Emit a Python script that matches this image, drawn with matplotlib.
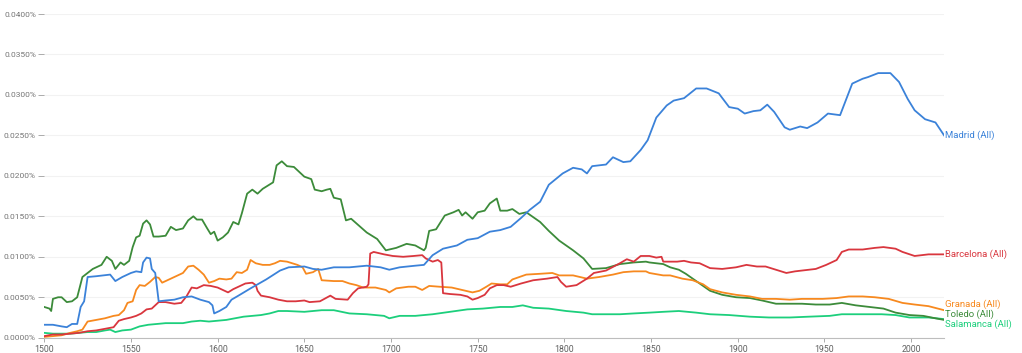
import matplotlib
matplotlib.use('Agg')
import matplotlib.pyplot as plt

plt.rcParams['font.family'] = ['Roboto', 'DejaVu Sans']

# values in percent
madrid_yr = [1500, 1505, 1510, 1513, 1516, 1519, 1521, 1523, 1525, 1530, 1538, 1541, 1545, 1550, 1553, 1556, 1557,
             1559, 1561, 1562, 1564, 1566, 1570, 1575, 1580, 1585, 1590, 1595, 1597, 1598, 1601, 1605, 1608, 1612,
             1619, 1628, 1636, 1641, 1650, 1655, 1660, 1667, 1676, 1686, 1694, 1699, 1705, 1714, 1719, 1724, 1730,
             1738, 1744, 1750, 1757, 1763, 1769, 1775, 1780, 1786, 1791, 1799, 1805, 1810, 1813, 1816, 1824, 1828,
             1834, 1838, 1844, 1848, 1853, 1859, 1863, 1869, 1876, 1882, 1889, 1895, 1900, 1904, 1909, 1913, 1917,
             1921, 1927, 1930, 1936, 1940, 1946, 1952, 1959, 1966, 1972, 1975, 1981, 1988, 1993, 1998, 2002, 2008,
             2014, 2019]
madrid = [0.0016, 0.0016, 0.0014, 0.0013, 0.0017, 0.0017, 0.0038, 0.0045, 0.0075, 0.0076, 0.0078, 0.0070, 0.0075,
          0.0080, 0.0082, 0.0081, 0.0093, 0.0099, 0.0098, 0.0085, 0.0080, 0.0045, 0.0046, 0.0047, 0.0050, 0.0051,
          0.0047, 0.0044, 0.0040, 0.0030, 0.0033, 0.0038, 0.0047, 0.0052, 0.0061, 0.0072, 0.0083, 0.0087, 0.0088,
          0.0085, 0.0084, 0.0087, 0.0087, 0.0089, 0.0087, 0.0084, 0.0087, 0.0089, 0.0090, 0.0102, 0.0110, 0.0114,
          0.0121, 0.0123, 0.0131, 0.0133, 0.0137, 0.0148, 0.0158, 0.0168, 0.0189, 0.0203, 0.0210, 0.0208, 0.0203,
          0.0212, 0.0214, 0.0223, 0.0217, 0.0218, 0.0232, 0.0244, 0.0272, 0.0287, 0.0293, 0.0296, 0.0308, 0.0308,
          0.0302, 0.0285, 0.0283, 0.0277, 0.0280, 0.0281, 0.0288, 0.0279, 0.0260, 0.0257, 0.0261, 0.0259, 0.0266,
          0.0277, 0.0275, 0.0314, 0.0320, 0.0322, 0.0327, 0.0327, 0.0316, 0.0295, 0.0281, 0.0270, 0.0266, 0.0250]

barcelona_yr = [1500, 1505, 1510, 1515, 1520, 1525, 1530, 1535, 1540, 1543, 1546, 1550, 1553, 1556, 1559, 1562, 1566,
                1570, 1575, 1579, 1582, 1585, 1588, 1592, 1596, 1600, 1603, 1606, 1609, 1612, 1616, 1620, 1622, 1623,
                1625, 1630, 1635, 1640, 1645, 1650, 1653, 1659, 1665, 1668, 1675, 1678, 1681, 1686, 1687, 1688, 1690,
                1696, 1701, 1707, 1713, 1718, 1720, 1724, 1727, 1729, 1730, 1734, 1740, 1744, 1747, 1750, 1754, 1757,
                1761, 1765, 1769, 1775, 1782, 1790, 1796, 1798, 1801, 1807, 1813, 1817, 1824, 1832, 1836, 1840, 1844,
                1849, 1853, 1856, 1857, 1865, 1869, 1873, 1878, 1884, 1891, 1899, 1905, 1911, 1916, 1922, 1928, 1933,
                1941, 1945, 1951, 1957, 1960, 1964, 1972, 1979, 1984, 1991, 1995, 2002, 2010, 2019]
barcelona = [0.0002, 0.0004, 0.0004, 0.0005, 0.0006, 0.0008, 0.0009, 0.0011, 0.0013, 0.0021, 0.0023, 0.0025, 0.0027,
             0.0030, 0.0035, 0.0036, 0.0044, 0.0044, 0.0042, 0.0043, 0.0051, 0.0062, 0.0061, 0.0065, 0.0064, 0.0062,
             0.0059, 0.0056, 0.0060, 0.0063, 0.0067, 0.0068, 0.0065, 0.0058, 0.0052, 0.0050, 0.0047, 0.0045, 0.0045,
             0.0046, 0.0044, 0.0045, 0.0052, 0.0048, 0.0047, 0.0055, 0.0061, 0.0063, 0.0066, 0.0104, 0.0106, 0.0103,
             0.0101, 0.0100, 0.0101, 0.0102, 0.0098, 0.0094, 0.0096, 0.0093, 0.0055, 0.0054, 0.0053, 0.0051, 0.0047,
             0.0049, 0.0053, 0.0061, 0.0065, 0.0065, 0.0063, 0.0067, 0.0071, 0.0073, 0.0075, 0.0069, 0.0063, 0.0065,
             0.0073, 0.0080, 0.0083, 0.0092, 0.0097, 0.0094, 0.0101, 0.0101, 0.0099, 0.0100, 0.0094, 0.0094, 0.0095,
             0.0093, 0.0092, 0.0086, 0.0085, 0.0087, 0.0090, 0.0088, 0.0088, 0.0084, 0.0080, 0.0082, 0.0084, 0.0085,
             0.0090, 0.0096, 0.0106, 0.0109, 0.0109, 0.0111, 0.0112, 0.0110, 0.0106, 0.0101, 0.0103, 0.0103]

granada_yr = [1500, 1505, 1510, 1515, 1519, 1522, 1525, 1530, 1535, 1540, 1543, 1546, 1548, 1551, 1553, 1555, 1558,
              1561, 1564, 1566, 1568, 1572, 1576, 1580, 1583, 1586, 1589, 1592, 1595, 1598, 1601, 1605, 1608, 1611,
              1614, 1617, 1619, 1622, 1626, 1630, 1633, 1636, 1640, 1643, 1646, 1649, 1651, 1655, 1658, 1660, 1667,
              1672, 1676, 1680, 1684, 1691, 1697, 1699, 1703, 1710, 1714, 1718, 1722, 1728, 1735, 1741, 1747, 1751,
              1755, 1758, 1763, 1767, 1770, 1778, 1786, 1793, 1797, 1805, 1813, 1820, 1828, 1834, 1840, 1847, 1849,
              1857, 1861, 1868, 1874, 1880, 1884, 1891, 1899, 1907, 1914, 1922, 1930, 1937, 1949, 1957, 1964, 1972,
              1979, 1987, 1995, 2002, 2010, 2019]
granada = [0.0001, 0.0002, 0.0003, 0.0006, 0.0008, 0.0010, 0.0020, 0.0022, 0.0024, 0.0027, 0.0028, 0.0034, 0.0043,
           0.0045, 0.0059, 0.0065, 0.0064, 0.0069, 0.0075, 0.0074, 0.0068, 0.0072, 0.0076, 0.0080, 0.0088, 0.0089,
           0.0084, 0.0078, 0.0068, 0.0070, 0.0073, 0.0072, 0.0073, 0.0081, 0.0080, 0.0084, 0.0096, 0.0092, 0.0090,
           0.0090, 0.0092, 0.0095, 0.0094, 0.0092, 0.0090, 0.0087, 0.0079, 0.0081, 0.0085, 0.0071, 0.0070, 0.0070,
           0.0067, 0.0065, 0.0062, 0.0062, 0.0059, 0.0056, 0.0061, 0.0063, 0.0063, 0.0059, 0.0064, 0.0063, 0.0062,
           0.0059, 0.0056, 0.0058, 0.0063, 0.0067, 0.0066, 0.0066, 0.0072, 0.0078, 0.0079, 0.0080, 0.0077, 0.0077,
           0.0073, 0.0075, 0.0078, 0.0081, 0.0082, 0.0082, 0.0080, 0.0077, 0.0077, 0.0073, 0.0071, 0.0066, 0.0060,
           0.0056, 0.0053, 0.0051, 0.0048, 0.0048, 0.0047, 0.0048, 0.0048, 0.0049, 0.0051, 0.0051, 0.0050, 0.0048,
           0.0043, 0.0041, 0.0039, 0.0034]

toledo_yr = [1500, 1503, 1504, 1505, 1508, 1510, 1513, 1516, 1519, 1522, 1525, 1528, 1530, 1533, 1536, 1539, 1541,
             1544, 1546, 1549, 1551, 1553, 1555, 1557, 1559, 1561, 1563, 1566, 1570, 1573, 1576, 1580, 1583, 1586,
             1588, 1591, 1594, 1596, 1598, 1600, 1603, 1606, 1609, 1612, 1614, 1617, 1620, 1623, 1626, 1629, 1632,
             1634, 1637, 1640, 1644, 1647, 1650, 1654, 1656, 1660, 1663, 1665, 1667, 1671, 1674, 1677, 1686, 1692,
             1697, 1703, 1709, 1714, 1719, 1720, 1722, 1726, 1731, 1736, 1739, 1741, 1743, 1747, 1750, 1754, 1757,
             1761, 1763, 1767, 1770, 1774, 1778, 1786, 1791, 1797, 1805, 1811, 1816, 1824, 1832, 1840, 1847, 1849,
             1857, 1861, 1866, 1870, 1876, 1880, 1884, 1891, 1899, 1907, 1914, 1922, 1930, 1937, 1945, 1953, 1960,
             1968, 1976, 1984, 1991, 1999, 2007, 2014, 2019]
toledo = [0.0038, 0.0036, 0.0033, 0.0048, 0.0050, 0.0050, 0.0044, 0.0045, 0.0050, 0.0075, 0.0080, 0.0085, 0.0087,
          0.0090, 0.0100, 0.0095, 0.0085, 0.0093, 0.0090, 0.0095, 0.0112, 0.0124, 0.0126, 0.0141, 0.0145, 0.0140,
          0.0125, 0.0125, 0.0126, 0.0137, 0.0133, 0.0135, 0.0145, 0.0150, 0.0146, 0.0146, 0.0135, 0.0128, 0.0131,
          0.0120, 0.0124, 0.0130, 0.0143, 0.0140, 0.0154, 0.0178, 0.0183, 0.0178, 0.0184, 0.0188, 0.0192, 0.0213,
          0.0218, 0.0212, 0.0211, 0.0205, 0.0199, 0.0196, 0.0183, 0.0181, 0.0183, 0.0184, 0.0173, 0.0171, 0.0145,
          0.0147, 0.0130, 0.0122, 0.0108, 0.0111, 0.0116, 0.0114, 0.0108, 0.0111, 0.0132, 0.0134, 0.0151, 0.0155,
          0.0158, 0.0151, 0.0155, 0.0147, 0.0155, 0.0157, 0.0166, 0.0172, 0.0157, 0.0157, 0.0159, 0.0153, 0.0155,
          0.0143, 0.0132, 0.0120, 0.0108, 0.0098, 0.0085, 0.0086, 0.0091, 0.0093, 0.0094, 0.0093, 0.0091, 0.0087,
          0.0084, 0.0079, 0.0070, 0.0064, 0.0058, 0.0053, 0.0050, 0.0049, 0.0046, 0.0042, 0.0042, 0.0042, 0.0041,
          0.0041, 0.0043, 0.0040, 0.0038, 0.0036, 0.0031, 0.0028, 0.0027, 0.0024, 0.0022]

salamanca_yr = [1500, 1505, 1510, 1515, 1520, 1525, 1530, 1535, 1538, 1541, 1545, 1550, 1555, 1560, 1565, 1570, 1575,
                1580, 1585, 1590, 1595, 1600, 1605, 1610, 1615, 1620, 1625, 1630, 1635, 1640, 1650, 1660, 1667, 1676,
                1686, 1696, 1699, 1705, 1714, 1724, 1734, 1744, 1753, 1763, 1770, 1776, 1782, 1791, 1801, 1811, 1816,
                1824, 1832, 1840, 1849, 1857, 1866, 1876, 1884, 1895, 1907, 1918, 1930, 1941, 1953, 1960, 1972, 1983,
                1991, 1999, 2010, 2019]
salamanca = [0.0006, 0.0005, 0.0005, 0.0005, 0.0006, 0.0007, 0.0007, 0.0009, 0.0010, 0.0007, 0.0009, 0.0010, 0.0014,
             0.0016, 0.0017, 0.0018, 0.0018, 0.0018, 0.0020, 0.0021, 0.0020, 0.0021, 0.0022, 0.0024, 0.0026, 0.0027,
             0.0028, 0.0030, 0.0033, 0.0033, 0.0032, 0.0034, 0.0034, 0.0030, 0.0029, 0.0027, 0.0024, 0.0027, 0.0027,
             0.0029, 0.0032, 0.0035, 0.0036, 0.0038, 0.0038, 0.0040, 0.0037, 0.0036, 0.0033, 0.0031, 0.0029, 0.0029,
             0.0029, 0.0030, 0.0031, 0.0032, 0.0033, 0.0031, 0.0029, 0.0028, 0.0026, 0.0025, 0.0025, 0.0026, 0.0027,
             0.0029, 0.0029, 0.0029, 0.0028, 0.0025, 0.0025, 0.0023]

names = ['Madrid (All)', 'Barcelona (All)', 'Granada (All)', 'Toledo (All)', 'Salamanca (All)']
colors = ['#3b82d9', '#d9363e', '#f7891f', '#3c8b3a', '#1ccf7c']
label_y = [None, None, 0.00417, 0.00293, 0.0017]   # lower labels are pushed apart

fig = plt.figure(figsize=(10.22, 3.53), dpi=100)
ax = fig.add_axes([0.0433, 0.0433, 0.8805, 0.917])

series = [(salamanca_yr, salamanca, 4), (toledo_yr, toledo, 3), (granada_yr, granada, 2),
          (barcelona_yr, barcelona, 1), (madrid_yr, madrid, 0)]
for yr, val, i in series:
    ax.plot(yr, val, color=colors[i], lw=1.3, solid_joinstyle='round')
    ly = label_y[i] if label_y[i] is not None else val[-1]
    ax.text(yr[-1] + 0.6, ly, names[i], color=colors[i], fontsize=6.8, va='center', ha='left')

ax.set_xlim(1500, 2019)
ax.set_ylim(0, 0.04)
ax.set_yticks([i * 0.005 for i in range(9)])
ax.set_yticklabels(['%.4f%%' % (i * 0.005) for i in range(9)])
ax.set_xticks(range(1500, 2001, 50))
ax.grid(axis='y', color='#f2f2f2', lw=0.8)
ax.set_axisbelow(True)
for s in ['top', 'right', 'left']:
    ax.spines[s].set_visible(False)
ax.spines['bottom'].set_color('#bdbdbd')
ax.tick_params(axis='y', length=4, width=0.6, color='#9e9e9e', labelcolor='#757575', labelsize=6, pad=2)
ax.tick_params(axis='x', length=3, width=0.6, color='#9e9e9e', labelcolor='#616161', labelsize=6.3, pad=2)

fig.savefig('out.png', dpi=100)
